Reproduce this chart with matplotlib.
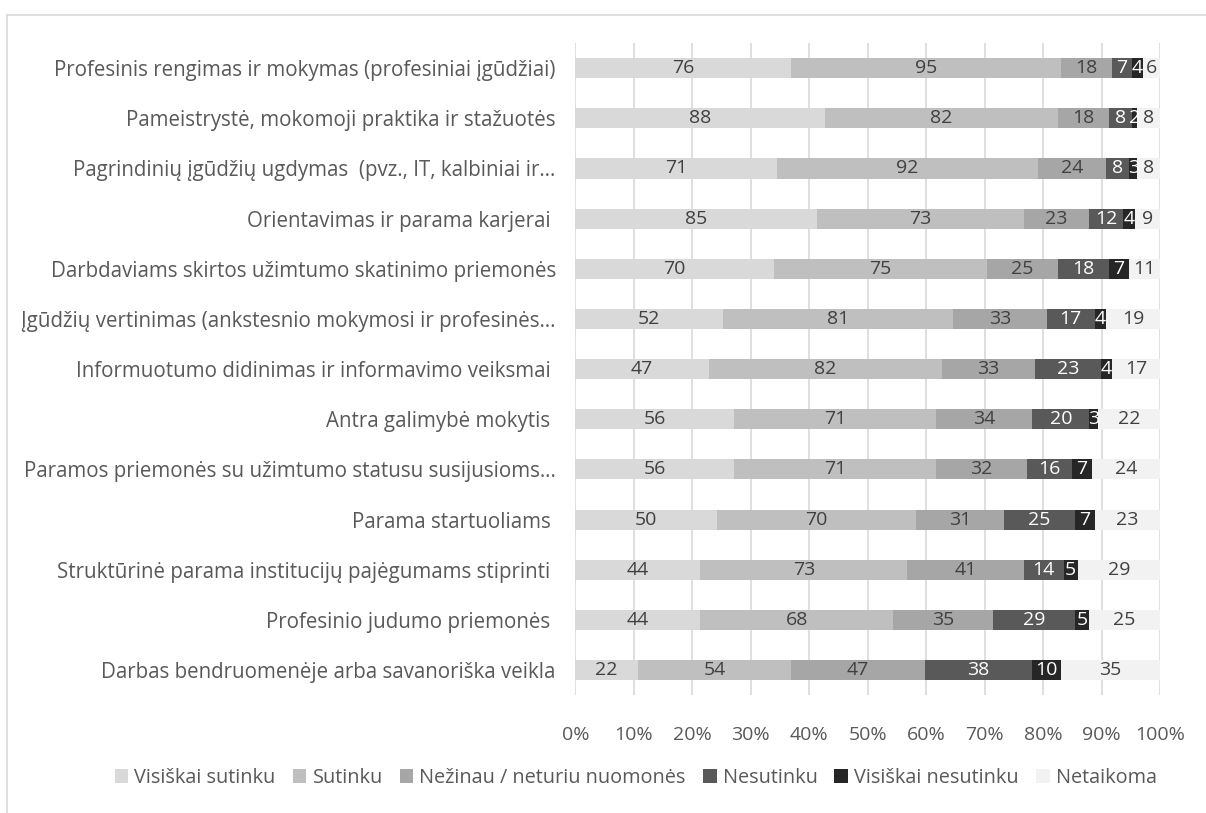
import numpy as np
import matplotlib.pyplot as plt
from matplotlib.lines import Line2D
from matplotlib.patches import Patch

categories = [
    "Profesinis rengimas ir mokymas (profesiniai įgūdžiai)",
    "Pameistrystė, mokomoji praktika ir stažuotės",
    "Pagrindinių įgūdžių ugdymas  (pvz., IT, kalbiniai ir…",
    "Orientavimas ir parama karjerai ",
    "Darbdaviams skirtos užimtumo skatinimo priemonės",
    "Įgūdžių vertinimas (ankstesnio mokymosi ir profesinės…",
    "Informuotumo didinimas ir informavimo veiksmai ",
    "Antra galimybė mokytis ",
    "Paramos priemonės su užimtumo statusu susijusioms…",
    "Parama startuoliams ",
    "Struktūrinė parama institucijų pajėgumams stiprinti ",
    "Profesinio judumo priemonės ",
    "Darbas bendruomenėje arba savanoriška veikla",
]
visiskai_sutinku = [76, 88, 71, 85, 70, 52, 47, 56, 56, 50, 44, 44, 22]
sutinku = [95, 82, 92, 73, 75, 81, 82, 71, 71, 70, 73, 68, 54]
nezinau = [18, 18, 24, 23, 25, 33, 33, 34, 32, 31, 41, 35, 47]
nesutinku = [7, 8, 8, 12, 18, 17, 23, 20, 16, 25, 14, 29, 38]
visiskai_nesutinku = [4, 2, 3, 4, 7, 4, 4, 3, 7, 7, 5, 5, 10]
netaikoma = [6, 8, 8, 9, 11, 19, 17, 22, 24, 23, 29, 25, 35]

series_names = ["Visiškai sutinku", "Sutinku", "Nežinau / neturiu nuomonės",
                "Nesutinku", "Visiškai nesutinku", "Netaikoma"]
series = [visiskai_sutinku, sutinku, nezinau, nesutinku, visiskai_nesutinku, netaikoma]
colors = ["#d9d9d9", "#bfbfbf", "#a6a6a6", "#595959", "#262626", "#f2f2f2"]
text_colors = ["#404040", "#404040", "#404040", "#ffffff", "#ffffff", "#404040"]

plt.rcParams['font.family'] = ['Open Sans', 'DejaVu Sans']

fig = plt.figure(figsize=(12.06, 8.13), dpi=100)
ax = fig.add_axes([0.477, 0.145, 0.485, 0.802])

data = np.array(series, dtype=float)
totals = data.sum(axis=0)
pct = data / totals * 100
y = np.arange(len(categories))
left = np.zeros(len(categories))
for i in range(len(series)):
    ax.barh(y, pct[i], left=left, height=0.4, color=colors[i], zorder=2)
    for j in range(len(categories)):
        ax.text(left[j] + pct[i][j] / 2, y[j], str(series[i][j]), ha='center', va='center',
                fontsize=14, color=text_colors[i], zorder=3)
    left += pct[i]

ax.set_xlim(0, 100)
ax.set_ylim(len(categories) - 0.5, -0.5)
ax.set_yticks(y)
ax.set_yticklabels(categories, fontsize=14.8, color='#595959')
ax.set_xticks(np.arange(0, 101, 10))
ax.set_xticklabels([f"{v}%" for v in range(0, 101, 10)], fontsize=14, color='#595959')
ax.tick_params(axis='both', length=0)
ax.tick_params(axis='y', pad=14)
ax.tick_params(axis='x', pad=22)
ax.grid(axis='x', color='#d9d9d9', linewidth=1.2, zorder=0)
for s in ax.spines.values():
    s.set_visible(False)

handles = [Patch(facecolor=c) for c in colors]
fig.legend(handles, series_names, loc='center', bbox_to_anchor=(0.527, 0.043), ncol=6,
           frameon=False, fontsize=14.3, handlelength=0.7, handleheight=0.7,
           handletextpad=0.3, columnspacing=0.85, labelcolor='#595959')

# chart border
fig.add_artist(Line2D([0.0058, 1.0], [0.9815, 0.9815], color='#d9d9d9', lw=1.2))
fig.add_artist(Line2D([0.0058, 0.0058], [0.0, 0.9815], color='#d9d9d9', lw=1.2))

fig.savefig('out.png', dpi=100)
